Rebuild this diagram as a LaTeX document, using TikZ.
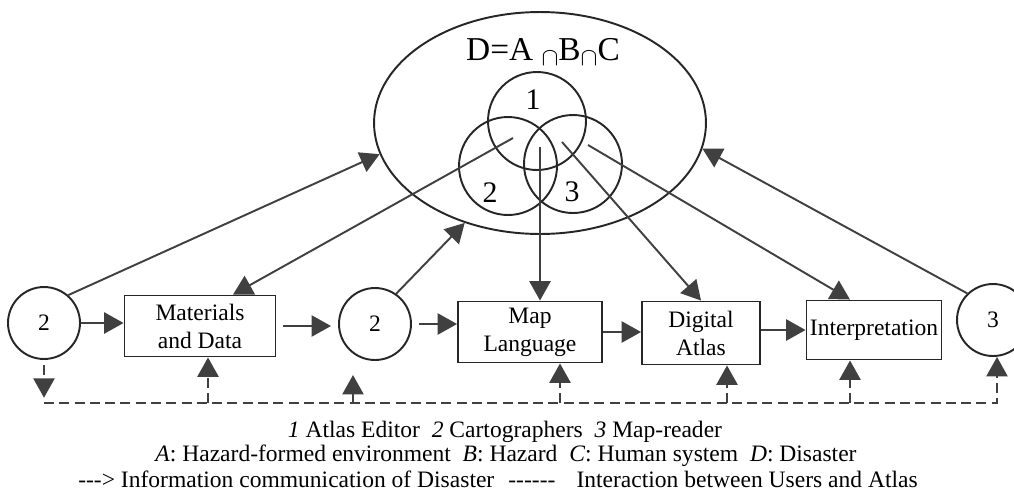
\documentclass[tikz,border=0pt]{standalone}
\usepackage{fontspec}
\setmainfont{Liberation Serif}
\usetikzlibrary{arrows.meta, shapes.geometric}

\newcommand{\hy}{\mbox{-}}

\begin{document}
\begin{tikzpicture}[x=0.02cm, y=-0.02cm,
        font=\fontsize{13.4}{16}\selectfont,
        person/.style={circle, draw=black!85, line width=1.1pt, minimum size=1.44cm, inner sep=0pt},
        venn/.style={circle, draw=black!85, line width=1.1pt, minimum size=1.96cm, inner sep=0pt},
        stage/.style={rectangle, draw=black!85, line width=1.1pt, align=center, inner sep=1pt},
        flow/.style={-{Triangle[length=11pt, width=12pt]}, color=black!75, line width=1.1pt},
        link/.style={flow, dash pattern=on 5.7pt off 3pt}]
        \useasboundingbox (0,0) rectangle (1014,491);

        % disaster system
        \node (world) [ellipse, draw=black!85, line width=1.1pt, minimum width=6.64cm, minimum height=4.44cm, inner sep=0pt] at (540,123) {};
        \node (formula) at (543,52) {\fontsize{19}{22}\selectfont D=A \raisebox{-0.35ex}{\fontsize{15}{15}\selectfont$\cap$}B\raisebox{-0.35ex}{\fontsize{15}{15}\selectfont$\cap$}C};
        \node (v1) [venn] at (537,121) {};
        \node (v2) [venn] at (508,166) {};
        \node (v3) [venn] at (573,164) {};
        \node (n1) at (533,100) {\fontsize{17}{20}\selectfont 1};
        \node (n2) at (490,193) {\fontsize{17}{20}\selectfont 2};
        \node (n3) at (572,192) {\fontsize{17}{20}\selectfont 3};
        \coordinate (s2) at (513,138);
        \coordinate (s1) at (540,147);
        \coordinate (s3) at (562,142);
        \coordinate (s4) at (588,145);

        % atlas chain
        \node (cart1) [person] at (44,323) {2};
        \node (data) [stage, minimum width=3.02cm, minimum height=1.22cm] at (200,326) {Materials\\and Data};
        \node (cart2) [person] at (375,324) {2};
        \node (lang) [stage, minimum width=2.88cm, minimum height=1.22cm] at (530,332) {Map\\Language};
        \node (atlas) [stage, minimum width=2.36cm, minimum height=1.26cm] at (701,333) {Digital\\Atlas};
        \node (interp) [stage, minimum width=2.7cm, minimum height=1.18cm] at (874,330) {Interpretation};
        \node (reader) [person] at (993,320) {3};

        \draw [flow] (cart1.east) -- (cart1.east -| data.west);
        \draw [flow, shorten <=4pt, shorten >=4pt] (data.east) -- (data.east -| cart2.west);
        \draw [flow, shorten <=4pt] (cart2.east) -- (cart2.east -| lang.west);
        \draw [flow] (lang.east) -- (lang.east -| atlas.west);
        \draw [flow] (interp.west -| atlas.east) -- (interp.west);

        \draw [flow] (cart1.49) -- (world.191);
        \draw [flow] (s2) -- ([xshift=0.66cm]data.north);
        \draw [flow] (cart2.55) -- (world.233);
        \draw [flow] (s1) -- (s1 |- lang.north);
        \draw [flow] (s3) -- (atlas.north);
        \draw [flow] (s4) -- ([xshift=-0.48cm]interp.north);
        \draw [flow] (reader.134) -- (world.351);

        % users and atlas
        \coordinate (b0) at (44,403);
        \coordinate (b1) at (208,403);
        \coordinate (b2) at (353,403);
        \coordinate (b3) at (560,403);
        \coordinate (b4) at (727,403);
        \coordinate (b5) at (850,403);
        \coordinate (b6) at (997,403);
        \draw [link, shorten <=3pt, shorten >=3pt] (cart1.south) -- (b0);
        \draw [link] (b0) -- (b6) -- (b6 |- reader.south);
        \draw [link] (b1) -- (b1 |- data.south);
        \draw [link, shorten >=8pt] (b2) -- (b2 |- cart2.south);
        \draw [link] (b3) -- (b3 |- lang.south);
        \draw [link] (b4) -- (b4 |- atlas.south);
        \draw [link] (b5) -- (b5 |- interp.south);

        % key
        \node (key1) at (505,432) {\textit{1} Atlas Editor\ \ \textit{2} Cartographers\ \ \textit{3} Map-reader};
        \node (key2) at (506,456) {\textit{A}: Hazard-formed environment\ \ \textit{B}: Hazard\ \ \textit{C}: Human system\ \ \textit{D}: Disaster};
        \node (key3) at (498,479) {\hy\hy\hy> Information communication of Disaster\hspace{8pt}\hy\hy\hy\hy\hy\hy\hspace{12pt}Interaction between Users and Atlas};

    \end{tikzpicture}
\end{document}
